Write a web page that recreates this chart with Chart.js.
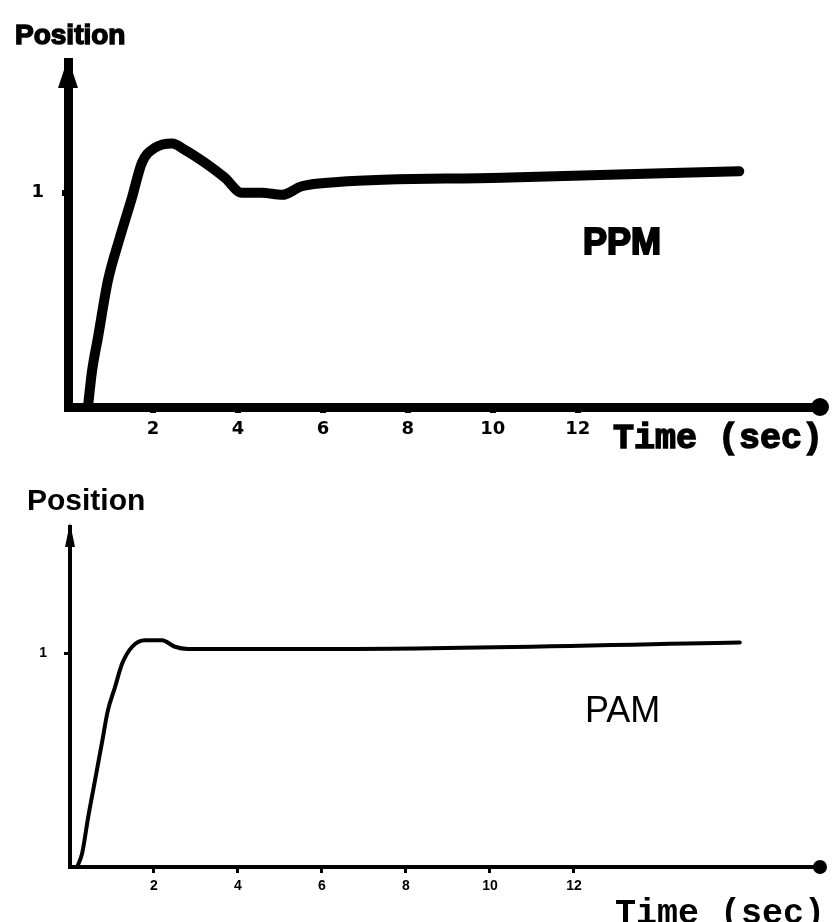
<!DOCTYPE html>
<html>
<head>
<meta charset="utf-8">
<script src="https://cdn.jsdelivr.net/npm/chart.js@4"></script>
<style>
  html, body { margin: 0; padding: 0; background: #fff; }
  #wrap { position: relative; width: 833px; height: 922px; overflow: hidden; background: #fff; }
  canvas { position: absolute; left: 0; }
  .lbl { position: absolute; line-height: 1; color: #000; white-space: nowrap; }
  .sans { font-family: "Liberation Sans", Arial, sans-serif; }
  .mono { font-family: "Liberation Mono", "Courier New", monospace; font-weight: bold; }
</style>
</head>
<body>
<div id="wrap">
  <canvas id="ppmChart" width="833" height="460" style="top:0"></canvas>
  <canvas id="pamChart" width="833" height="462" style="top:460px"></canvas>

  <div class="lbl sans" style="left:15px; top:21px; font-size:28px; font-weight:bold; -webkit-text-stroke:1.5px #000;">Position</div>
  <div class="lbl mono" style="left:613px; top:422px; font-size:35px; -webkit-text-stroke:1.5px #000;">Time (sec)</div>
  <div class="lbl sans" style="left:583px; top:224px; font-size:36px; font-weight:bold; -webkit-text-stroke:2px #000;">PPM</div>

  <div class="lbl sans" style="left:27px; top:485px; font-size:30px; font-weight:bold;">Position</div>
  <div class="lbl mono" style="left:615px; top:897px; font-size:35px;">Time (sec)</div>
  <div class="lbl sans" style="left:585px; top:692px; font-size:36px;">PAM</div>
</div>
<script>
// values (time in sec, position normalised to 1)
const xTickValues = [2, 4, 6, 8, 10, 12];
const yTickValues = [1];

const ppmTime = [0.47, 0.56, 0.71, 0.94, 1.22, 1.51, 1.74, 2.05, 2.45, 2.75, 3.22, 3.69, 4.09, 4.56, 5.04, 5.5, 6.35, 10.2, 15.8];
const ppmPos  = [0, 0.16, 0.33, 0.59, 0.79, 0.98, 1.14, 1.21, 1.23, 1.20, 1.14, 1.07, 1.00, 1.00, 0.99, 1.03, 1.05, 1.07, 1.10];

const pamTime = [0.17, 0.29, 0.43, 0.6, 0.76, 0.9, 1.07, 1.24, 1.48, 1.79, 2.19, 2.5, 2.81, 6.8, 15.95];
const pamPos  = [0, 0.065, 0.23, 0.41, 0.58, 0.73, 0.84, 0.95, 1.03, 1.06, 1.06, 1.03, 1.02, 1.02, 1.05];

// arrow on top of the y axis, blob at the end of the x axis
const axisEnds = {
  id: 'axisEnds',
  afterDraw(chart, args, opts) {
    const { ctx, chartArea: a } = chart;
    ctx.save();
    ctx.fillStyle = '#000';
    ctx.beginPath();
    ctx.moveTo(a.left - opts.arrowW, a.top + opts.arrowH);
    ctx.lineTo(a.left, a.top - 4);
    ctx.lineTo(a.left + opts.arrowW, a.top + opts.arrowH);
    ctx.closePath();
    ctx.fill();
    ctx.beginPath();
    ctx.arc(a.right, a.bottom, opts.dot, 0, Math.PI * 2);
    ctx.fill();
    ctx.restore();
  }
};

function makeChart(id, times, values, s) {
  const canvas = document.getElementById(id);
  return new Chart(canvas, {
    type: 'line',
    data: {
      datasets: [{
        data: times.map((t, i) => ({ x: t, y: values[i] })),
        borderColor: '#000',
        borderWidth: s.line,
        pointRadius: 0,
        cubicInterpolationMode: 'monotone',
        borderCapStyle: 'round',
        borderJoinStyle: 'round',
        fill: false
      }]
    },
    options: {
      responsive: false,
      animation: false,
      events: [],
      layout: { padding: { top: s.top, right: s.right, left: 0, bottom: 0 } },
      plugins: {
        legend: { display: false },
        tooltip: { enabled: false },
        axisEnds: { arrowW: s.arrowW, arrowH: s.arrowH, dot: s.dot }
      },
      scales: {
        x: {
          type: 'linear',
          min: 0,
          max: s.xMax,
          afterBuildTicks: sc => { sc.ticks = xTickValues.map(v => ({ value: v })); },
          afterFit: sc => { sc.height = s.xHeight; },
          border: { display: true, color: '#000', width: s.axis },
          grid: { drawOnChartArea: false, drawTicks: true, tickLength: 6, color: '#000', lineWidth: s.tick },
          ticks: {
            color: '#000',
            padding: s.xPad,
            maxRotation: 0,
            font: s.tickFont
          }
        },
        y: {
          type: 'linear',
          min: 0,
          max: s.yMax,
          afterBuildTicks: sc => { sc.ticks = yTickValues.map(v => ({ value: v })); },
          afterFit: sc => { sc.width = s.yWidth; },
          border: { display: true, color: '#000', width: s.axis },
          grid: { drawOnChartArea: false, drawTicks: true, tickLength: 6, color: '#000', lineWidth: s.tick },
          ticks: {
            color: '#000',
            padding: s.yPad,
            font: s.tickFont
          }
        }
      }
    },
    plugins: [axisEnds]
  });
}

makeChart('ppmChart', ppmTime, ppmPos, {
  line: 10, axis: 9, tick: 6, arrowW: 10, arrowH: 26, dot: 9,
  top: 62, right: 13, xHeight: 53, yWidth: 68,
  xMax: 17.7, yMax: 1.61, xPad: 6, yPad: 18,
  tickFont: { family: 'DejaVu Sans', size: 18, weight: 'bold' }
});

makeChart('pamChart', pamTime, pamPos, {
  line: 4, axis: 4, tick: 3, arrowW: 5, arrowH: 20, dot: 7,
  top: 67, right: 13, xHeight: 55, yWidth: 70,
  xMax: 17.86, yMax: 1.59, xPad: 5, yPad: 17,
  tickFont: { family: 'Liberation Sans', size: 14, weight: 'bold' }
});
</script>
</body>
</html>
